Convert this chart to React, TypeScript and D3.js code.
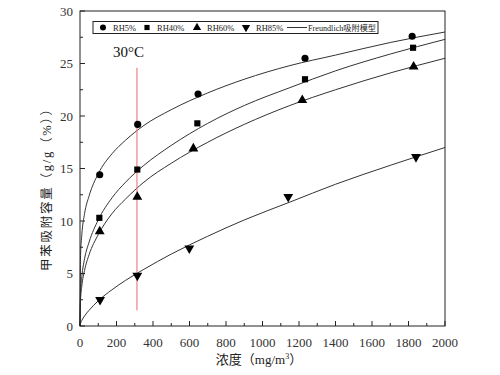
import * as d3 from 'd3'

const SERIES_NAMES = ['RH5%', 'RH40%', 'RH60%', 'RH85%']
const FIT_NAME = 'Freundlich吸附模型'

// measured points, [concentration mg/m3, capacity %]
const RH5_POINTS = [[108, 14.4], [316, 19.2], [647, 22.1], [1233, 25.5], [1820, 27.6]]
const RH40_POINTS = [[106, 10.3], [314, 14.9], [643, 19.3], [1233, 23.5], [1825, 26.5]]
const RH60_POINTS = [[108, 9.0], [314, 12.3], [621, 16.9], [1218, 21.5], [1828, 24.7]]
const RH85_POINTS = [[110, 2.5], [314, 4.8], [599, 7.4], [1141, 12.3], [1841, 16.1]]

// fitted curves
const CURVE_X = [0, 3, 10, 25, 50, 100, 175, 250, 350, 500, 700, 900, 1150, 1400, 1700, 2000]
const RH5_CURVE = [0, 6.7, 8.7, 10.7, 12.4, 14.5, 16.4, 17.7, 19.1, 20.6, 22.2, 23.5, 24.8, 25.8, 27.0, 28.0]
const RH40_CURVE = [0, 3.2, 4.7, 6.4, 8.0, 10.1, 12.2, 13.7, 15.3, 17.2, 19.3, 21.0, 22.7, 24.3, 25.9, 27.3]
const RH60_CURVE = [0, 2.5, 3.8, 5.3, 6.8, 8.7, 10.7, 12.1, 13.7, 15.5, 17.5, 19.2, 21.0, 22.5, 24.1, 25.5]
const RH85_CURVE = [0, 0.24, 0.53, 0.96, 1.5, 2.4, 3.45, 4.35, 5.4, 6.85, 8.55, 10.1, 11.8, 13.5, 15.3, 17.0]

const X_TICKS = [0, 200, 400, 600, 800, 1000, 1200, 1400, 1600, 1800, 2000]
const X_MINOR = d3.range(100, 2000, 200)
const Y_TICKS = [0, 5, 10, 15, 20, 25, 30]
const Y_MINOR = [2.5, 7.5, 12.5, 17.5, 22.5, 27.5]

const TEMP_LABEL = '30°C'
const TEMP_X = 312
const TEMP_Y_RANGE = [1.5, 24.6]

const X_LABEL = '浓度（mg/m'
const Y_LABEL = '甲苯吸附容量（g/g（%））'

const INK = '#222'
const SERIF = '"Liberation Serif", "DejaVu Serif", "Noto Sans CJK SC", serif'

const PLOT = { left: 80, right: 445, top: 11, bottom: 326 }

export default function App() {
  const x = d3.scaleLinear().domain([0, 2000]).range([PLOT.left, PLOT.right])
  const y = d3.scaleLinear().domain([0, 30]).range([PLOT.bottom, PLOT.top])

  const points = [RH5_POINTS, RH40_POINTS, RH60_POINTS, RH85_POINTS]
  const curves = [RH5_CURVE, RH40_CURVE, RH60_CURVE, RH85_CURVE]
  const symbols = [d3.symbolCircle, d3.symbolSquare, d3.symbolTriangle, d3.symbolTriangle]
  const sizes = [40, 38, 42, 42]
  const rotations = [0, 0, 0, 180]

  const line = d3.line<number>()
    .x((_, i) => x(CURVE_X[i]))
    .y(d => y(d))
    .curve(d3.curveMonotoneX)

  // legend layout
  const legendItems = [
    { sym: 0, mx: 103, tx: 113 },
    { sym: 1, mx: 147, tx: 157 },
    { sym: 2, mx: 197, tx: 207 },
    { sym: 3, mx: 246, tx: 256 },
  ]
  const legendY = 27.5

  return (
    <svg width={500} height={375} style={{ position: 'absolute', left: 0, top: 0, background: '#fff' }}>
      {/* curves */}
      {curves.map((c, i) => (
        <path key={'c' + i} d={line(c) || ''} fill="none" stroke="#333" strokeWidth={1} />
      ))}

      {/* 30°C marker */}
      <line x1={x(TEMP_X)} x2={x(TEMP_X)} y1={y(TEMP_Y_RANGE[0])} y2={y(TEMP_Y_RANGE[1])}
        stroke="#f08080" strokeWidth={1.2} />
      <text x={113} y={57} fontFamily={SERIF} fontSize={15} fill="#111">{TEMP_LABEL}</text>

      {/* points */}
      {points.map((pts, i) => pts.map((p, j) => (
        <path key={`p${i}-${j}`}
          d={d3.symbol().type(symbols[i]).size(sizes[i])() || ''}
          transform={`translate(${x(p[0])},${y(p[1])}) rotate(${rotations[i]})`}
          fill="#000" />
      )))}

      {/* frame */}
      <rect x={PLOT.left} y={PLOT.top} width={PLOT.right - PLOT.left} height={PLOT.bottom - PLOT.top}
        fill="none" stroke={INK} strokeWidth={1} />

      {/* x ticks */}
      {X_TICKS.map(t => (
        <g key={'xt' + t}>
          <line x1={x(t)} x2={x(t)} y1={PLOT.bottom} y2={PLOT.bottom - 5} stroke={INK} />
          <text x={x(t)} y={347} textAnchor="middle" fontFamily={SERIF} fontSize={13} fill="#333">{t}</text>
        </g>
      ))}
      {X_MINOR.map(t => (
        <line key={'xm' + t} x1={x(t)} x2={x(t)} y1={PLOT.bottom} y2={PLOT.bottom - 3} stroke={INK} />
      ))}

      {/* y ticks */}
      {Y_TICKS.map(t => (
        <g key={'yt' + t}>
          <line x1={PLOT.left} x2={PLOT.left + 5} y1={y(t)} y2={y(t)} stroke={INK} />
          <text x={73} y={y(t) + 4.5} textAnchor="end" fontFamily={SERIF} fontSize={13} fill="#333">{t}</text>
        </g>
      ))}
      {Y_MINOR.map(t => (
        <line key={'ym' + t} x1={PLOT.left} x2={PLOT.left + 3} y1={y(t)} y2={y(t)} stroke={INK} />
      ))}

      {/* axis titles */}
      <text x={259} y={364} textAnchor="middle" fontFamily={SERIF} fontSize={13} fill="#222">
        {X_LABEL}<tspan dy={-5} fontSize={8}>3</tspan><tspan dy={5}>）</tspan>
      </text>
      <text transform={`translate(51,187) rotate(-90)`} textAnchor="middle"
        fontFamily={SERIF} fontSize={12.5} fill="#222" textLength={168}
        lengthAdjust="spacing">{Y_LABEL}</text>

      {/* legend */}
      <rect x={93} y={21.5} width={285} height={12} fill="#fff" stroke={INK} strokeWidth={1} />
      {legendItems.map((it, i) => (
        <g key={'lg' + i}>
          <path d={d3.symbol().type(symbols[it.sym]).size(sizes[it.sym] * 0.7)() || ''}
            transform={`translate(${it.mx},${legendY}) rotate(${rotations[it.sym]})`} fill="#000" />
          <text x={it.tx} y={legendY + 3} fontFamily={SERIF} fontSize={8.5} fill="#222">{SERIES_NAMES[i]}</text>
        </g>
      ))}
      <line x1={287} x2={307} y1={legendY} y2={legendY} stroke="#333" />
      <text x={308} y={legendY + 3} fontFamily={SERIF} fontSize={8.5} fill="#222" textLength={68}
        lengthAdjust="spacingAndGlyphs">{FIT_NAME}</text>
    </svg>
  )
}
